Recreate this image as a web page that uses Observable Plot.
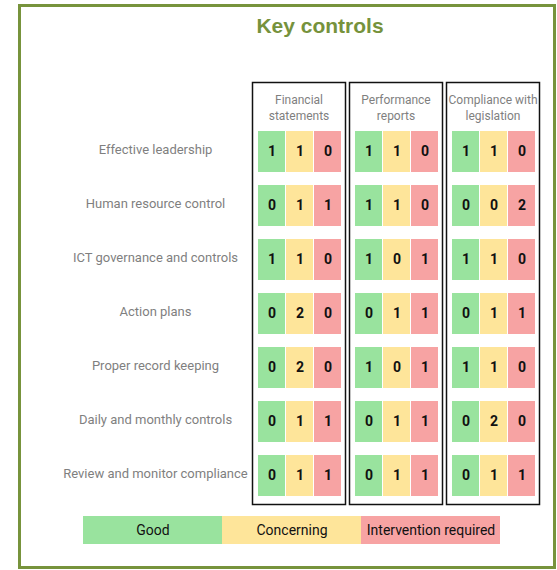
<!DOCTYPE html>
<html>
<head>
<meta charset="utf-8">
<script src="https://cdn.jsdelivr.net/npm/d3@7"></script>
<script src="https://cdn.jsdelivr.net/npm/@observablehq/plot@0.6"></script>
<style>
  html, body { margin: 0; padding: 0; background: #fff; }
  #wrap { position: relative; width: 557px; height: 570px; overflow: hidden; }
  #border { position: absolute; left: 18px; top: 4px; width: 532px; height: 559px; border: 3px solid #77933c; }
  #title { position: absolute; left: 0; width: 640px; top: 14px; text-align: center;
           font-family: "Liberation Sans", Arial, sans-serif; font-weight: bold; font-size: 21px; color: #76923c; }
  #main { position: absolute; left: 0; top: 0; }
  #legend { position: absolute; left: 0; top: 516px; }
</style>
</head>
<body>
<div id="wrap">
  <div id="border"></div>
  <div id="title">Key controls</div>
  <div id="main"></div>
  <div id="legend"></div>
</div>
<script>
const rows = [
  "Effective leadership",
  "Human resource control",
  "ICT governance and controls",
  "Action plans",
  "Proper record keeping",
  "Daily and monthly controls",
  "Review and monitor compliance"
];
const groups = ["Financial statements", "Performance reports", "Compliance with legislation"];
const groupLabels = ["Financial\nstatements", "Performance\nreports", "Compliance with\nlegislation"];
const statuses = ["Good", "Concerning", "Intervention required"];
const statusColors = ["#99e39e", "#fee59a", "#f7a3a3"];

// values per row: [Good, Concerning, Intervention] per group
const financial = [[1,1,0],[0,1,1],[1,1,0],[0,2,0],[0,2,0],[0,1,1],[0,1,1]];
const performance = [[1,1,0],[1,1,0],[1,0,1],[0,1,1],[1,0,1],[0,1,1],[0,1,1]];
const compliance = [[1,1,0],[0,0,2],[1,1,0],[0,1,1],[1,1,0],[0,2,0],[0,1,1]];

const series = [financial, performance, compliance];
const data = [];
series.forEach((g, gi) => g.forEach((vals, ri) => vals.forEach((v, si) => {
  data.push({group: groups[gi], row: rows[ri], status: statuses[si], value: v});
})));

const font = 'Roboto, "Liberation Sans", sans-serif';

const main = Plot.plot({
  width: 557,
  height: 510,
  marginLeft: 251,
  marginRight: 18,
  marginTop: 82,
  marginBottom: 6,
  style: {fontFamily: font, background: "transparent"},
  fx: {domain: groups, paddingInner: 0.046, paddingOuter: 0, axis: null},
  x: {domain: statuses, paddingInner: 0.05, paddingOuter: 0, insetLeft: 5, insetRight: 4, axis: null},
  y: {domain: rows, paddingInner: 0.24, paddingOuter: 0, insetTop: 48, insetBottom: 7, axis: null},
  color: {domain: statuses, range: statusColors},
  marks: [
    Plot.frame({stroke: "#111", strokeWidth: 1.5}),
    Plot.text(groups, {fx: d => d, text: (d, i) => groupLabels[i], frameAnchor: "top", lineAnchor: "top",
      dy: 10, fontSize: 12, lineHeight: 1.35, fill: "#7f7f7f"}),
    Plot.cell(data, {fx: "group", x: "status", y: "row", fill: "status"}),
    Plot.text(data, {fx: "group", x: "status", y: "row", text: "value", fontSize: 14, fontWeight: "bold", fill: "#111"}),
    Plot.text(rows, {fx: () => groups[0], y: d => d, text: d => d, frameAnchor: "left", dx: -97, dy: -2,
      textAnchor: "middle", fontSize: 13, fill: "#7f7f7f"})
  ]
});
document.getElementById("main").appendChild(main);

const legend = Plot.plot({
  width: 557,
  height: 28,
  marginLeft: 82,
  marginRight: 56,
  marginTop: 0,
  marginBottom: 0,
  style: {fontFamily: font, background: "transparent"},
  x: {domain: statuses, padding: 0, axis: null},
  color: {domain: statuses, range: statusColors},
  marks: [
    Plot.cell(statuses, {x: d => d, fill: d => d}),
    Plot.text(statuses, {x: d => d, text: d => d, fontSize: 14, fill: "#111", frameAnchor: "middle"})
  ]
});
document.getElementById("legend").appendChild(legend);
</script>
</body>
</html>
